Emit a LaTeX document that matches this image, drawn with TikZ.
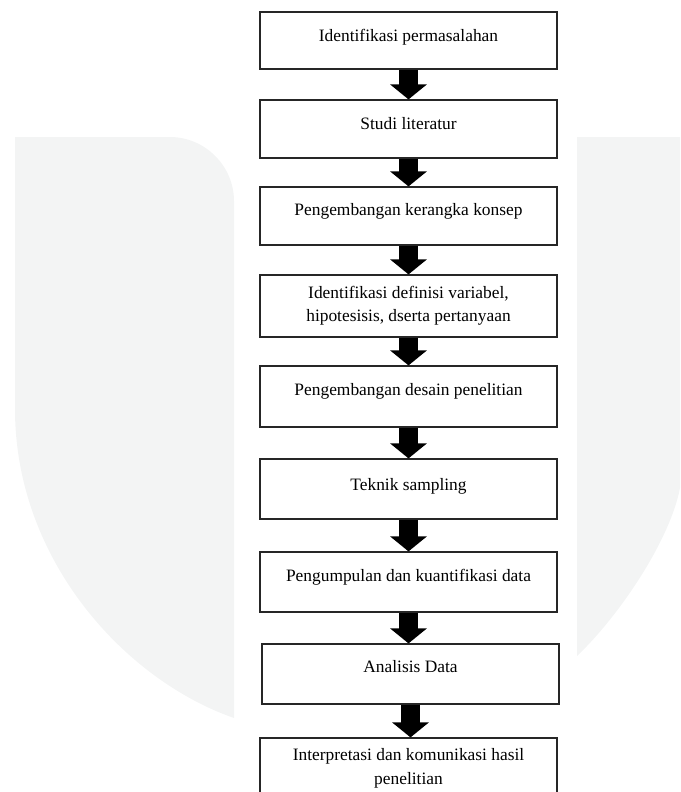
\documentclass[tikz,border=0pt]{standalone}
\usepackage{fontspec}
\setmainfont{Liberation Serif}
\usetikzlibrary{arrows.meta}
\definecolor{wm}{RGB}{243,244,244}
\tikzset{
 box/.style={draw=black!85, line width=1.2pt, minimum width=297pt, inner sep=0pt, fill=white},
 txt/.style={anchor=base, inner sep=0pt, font=\fontsize{17.4}{23.4}\selectfont, align=center},
 blockarrow/.style={line width=19pt, -{Triangle[width=36pt,length=15pt]}, draw=black},
}
\begin{document}
\begin{tikzpicture}[x=1pt,y=-1pt]
\useasboundingbox (0,0) rectangle (680,792);
\clip (0,0) rectangle (680,792);
% watermark
\fill[wm] (15,137) -- (170,137) .. controls (205,137) and (234,166) .. (234,201) -- (234,718) .. controls (125,680) and (15,560) .. (15,409) -- cycle;
\fill[wm] (577,137) -- (680,137) -- (680,488) .. controls (670,540) and (620,615) .. (577,656) -- cycle;
% boxes
\node[box, minimum height=57pt] (b1) at (408.5,40.5) {};
\node[box, minimum height=58pt] (b2) at (408.5,129) {};
\node[box, minimum height=58pt] (b3) at (408.5,216) {};
\node[box, minimum height=62pt] (b4) at (408.5,306) {};
\node[box, minimum height=61pt] (b5) at (408.5,396.5) {};
\node[box, minimum height=60pt] (b6) at (408.5,489) {};
\node[box, minimum height=60pt] (b7) at (408.5,582) {};
\node[box, minimum height=60pt] (b8) at (410.5,674) {};
\node[box, minimum height=72pt] (b9) at (408.5,774) {};
% texts
\node[txt] (t1) at (408.5,41.5) {Identifikasi permasalahan};
\node[txt] (t2) at (408.5,129) {Studi literatur};
\node[txt] (t3) at (408.5,215.5) {Pengembangan kerangka konsep};
\node[txt] (t4) at (408.5,321.5) {Identifikasi definisi variabel,\\hipotesisis, dserta pertanyaan};
\node[txt] (t5) at (408.5,395.5) {Pengembangan desain penelitian};
\node[txt] (t6) at (408.5,490.5) {Teknik sampling};
\node[txt] (t7) at (408.5,581.5) {Pengumpulan dan kuantifikasi data};
\node[txt] (t8) at (410.5,672.5) {Analisis Data};
\node[txt] (t9) at (408.5,784) {Interpretasi dan komunikasi hasil\\penelitian};
% arrows
\draw[blockarrow] (b1.south) -- (b2.north);
\draw[blockarrow] (b2.south) -- (b3.north);
\draw[blockarrow] (b3.south) -- (b4.north);
\draw[blockarrow] (b4.south) -- (b5.north);
\draw[blockarrow] (b5.south) -- (b6.north);
\draw[blockarrow] (b6.south) -- (b7.north);
\draw[blockarrow] (b7.south) -- (b7.south |- b8.north);
\draw[blockarrow] (b8.south) -- (b8.south |- b9.north);
\end{tikzpicture}
\end{document}
